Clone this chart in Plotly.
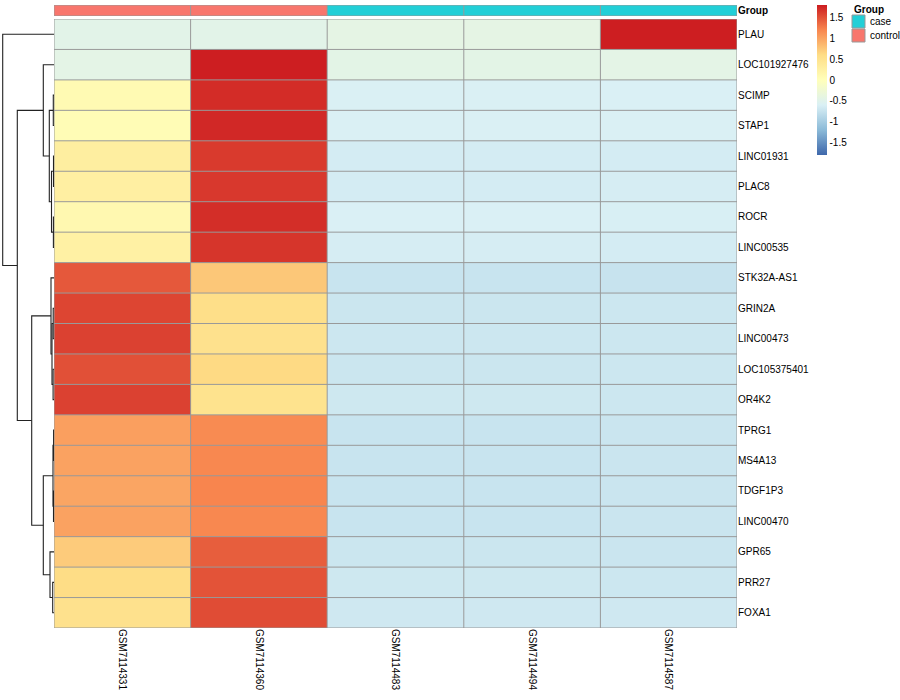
import plotly.graph_objects as go

# ---------------- data ----------------
samples = ["GSM7114331", "GSM7114360", "GSM7114483", "GSM7114494", "GSM7114587"]
groups = ["control", "control", "case", "case", "case"]
genes = ["PLAU", "LOC101927476", "SCIMP", "STAP1", "LINC01931", "PLAC8", "ROCR",
         "LINC00535", "STK32A-AS1", "GRIN2A", "LINC00473", "LOC105375401", "OR4K2",
         "TPRG1", "MS4A13", "TDGF1P3", "LINC00470", "GPR65", "PRR27", "FOXA1"]

# row-scaled expression (z-scores), columns in sample order
PLAU = [-0.47, -0.47, -0.42, -0.42, 1.78]
LOC101927476 = [-0.44, 1.78, -0.45, -0.45, -0.44]
SCIMP = [0.08, 1.70, -0.59, -0.59, -0.60]
STAP1 = [0.05, 1.72, -0.59, -0.59, -0.59]
LINC01931 = [0.30, 1.62, -0.64, -0.64, -0.64]
PLAC8 = [0.28, 1.63, -0.64, -0.64, -0.63]
ROCR = [0.12, 1.69, -0.60, -0.60, -0.61]
LINC00535 = [0.25, 1.65, -0.63, -0.63, -0.64]
STK32A_AS1 = [1.45, 0.75, -0.73, -0.73, -0.74]
GRIN2A = [1.56, 0.56, -0.71, -0.71, -0.70]
LINC00473 = [1.58, 0.52, -0.70, -0.70, -0.70]
LOC105375401 = [1.50, 0.62, -0.71, -0.71, -0.70]
OR4K2 = [1.58, 0.50, -0.69, -0.69, -0.70]
TPRG1 = [1.02, 1.16, -0.73, -0.73, -0.72]
MS4A13 = [1.00, 1.18, -0.73, -0.73, -0.72]
TDGF1P3 = [0.98, 1.20, -0.73, -0.73, -0.72]
LINC00470 = [1.00, 1.18, -0.73, -0.73, -0.72]
GPR65 = [0.72, 1.42, -0.71, -0.71, -0.72]
PRR27 = [0.60, 1.48, -0.69, -0.69, -0.70]
FOXA1 = [0.52, 1.52, -0.68, -0.68, -0.68]

values = [PLAU, LOC101927476, SCIMP, STAP1, LINC01931, PLAC8, ROCR, LINC00535,
          STK32A_AS1, GRIN2A, LINC00473, LOC105375401, OR4K2, TPRG1, MS4A13,
          TDGF1P3, LINC00470, GPR65, PRR27, FOXA1]

# row dendrogram: (child A, child B, height); ints refer to earlier merges
merges = [
    ("SCIMP", "STAP1", 0.7),            # 0
    ("LINC01931", "PLAC8", 0.5),        # 1
    ("ROCR", "LINC00535", 0.6),         # 2
    (1, 2, 2.5),                        # 3
    (0, 3, 4.7),                        # 4
    ("LOC101927476", 4, 10.7),          # 5
    ("GRIN2A", "LINC00473", 0.8),       # 6
    ("LOC105375401", "OR4K2", 0.9),     # 7
    (6, 7, 2.0),                        # 8
    ("STK32A-AS1", 8, 3.0),             # 9
    ("TPRG1", "MS4A13", 0.4),           # 10
    ("TDGF1P3", "LINC00470", 0.5),      # 11
    (10, 11, 1.0),                      # 12
    ("PRR27", "FOXA1", 1.3),            # 13
    ("GPR65", 13, 4.0),                 # 14
    (12, 14, 10.7),                     # 15
    (9, 15, 22.3),                      # 16
    (5, 16, 36.7),                      # 17
    ("PLAU", 17, 51.3),                 # 18
]

group_levels = ["case", "control"]
group_colors = {"case": "#22CFD7", "control": "#F8766D"}
heat_colors = ["#3F68AB", "#8BBAD8", "#DAF0F5", "#FFFFBA", "#FEDD86", "#F8864F", "#CC1C20"]
zlim = 1.79
cb_ticks = [1.5, 1, 0.5, 0, -0.5, -1, -1.5]

# ---------------- layout geometry (pixels) ----------------
W, H = 900, 700
hm_x0, hm_x1 = 54, 737
hm_y0, hm_y1 = 19, 628
ann_y0, ann_y1 = 5, 16
FONT = "Liberation Sans, Arial, Helvetica, sans-serif"
GRID = "#999999"

nr, nc = len(genes), len(samples)

fig = go.Figure()

# main heatmap
cscale = [[i / (len(heat_colors) - 1), c] for i, c in enumerate(heat_colors)]
fig.add_trace(go.Heatmap(
    z=values, x=list(range(nc)), y=list(range(nr)),
    colorscale=cscale, zmin=-zlim, zmax=zlim,
    xaxis="x", yaxis="y", hoverinfo="skip",
    colorbar=dict(
        x=817 / W, xanchor="left", y=1 - ann_y0 / H, yanchor="top",
        lenmode="pixels", len=150, thicknessmode="pixels", thickness=10,
        xpad=0, ypad=0, outlinewidth=0, ticks="",
        tickvals=cb_ticks, ticktext=[f"{t:g}" for t in cb_ticks],
        tickfont=dict(family=FONT, size=10, color="#000000"),
    ),
))

# group annotation bar
codes = [group_levels.index(g) for g in groups]
n_lv = len(group_levels)
ann_scale = []
for i, lv in enumerate(group_levels):
    ann_scale.append([i / n_lv, group_colors[lv]])
    ann_scale.append([(i + 1) / n_lv, group_colors[lv]])
fig.add_trace(go.Heatmap(
    z=[codes], x=list(range(nc)), y=[0],
    colorscale=ann_scale, zmin=-0.5, zmax=n_lv - 0.5, showscale=False,
    xaxis="x", yaxis="y2", hoverinfo="skip",
))

# dendrogram
pos = {g: i for i, g in enumerate(genes)}
hgt = {g: 0.0 for g in genes}
line_x, line_y = [], []
for k, (a, b, h) in enumerate(merges):
    pa, pb = pos[a], pos[b]
    ha, hb = hgt[a], hgt[b]
    line_x += [ha, h, h, hb, None]
    line_y += [pa, pa, pb, pb, None]
    pos[k] = (pa + pb) / 2
    hgt[k] = h
root_h = merges[-1][2]
fig.add_trace(go.Scatter(
    x=line_x, y=line_y, mode="lines",
    line=dict(color="#222222", width=1.1),
    xaxis="x3", yaxis="y", hoverinfo="skip", showlegend=False,
))

# cell borders
shapes = []
for i in range(nr + 1):
    shapes.append(dict(type="line", xref="x", yref="y", x0=-0.5, x1=nc - 0.5,
                       y0=i - 0.5, y1=i - 0.5, line=dict(color=GRID, width=1)))
for j in range(nc + 1):
    shapes.append(dict(type="line", xref="x", yref="y", x0=j - 0.5, x1=j - 0.5,
                       y0=-0.5, y1=nr - 0.5, line=dict(color=GRID, width=1)))
    shapes.append(dict(type="line", xref="x", yref="y2", x0=j - 0.5, x1=j - 0.5,
                       y0=-0.5, y1=0.5, line=dict(color=GRID, width=1)))
for yv in (-0.5, 0.5):
    shapes.append(dict(type="line", xref="x", yref="y2", x0=-0.5, x1=nc - 0.5,
                       y0=yv, y1=yv, line=dict(color=GRID, width=1)))

# group legend (title + swatches)
annotations = [dict(xref="paper", yref="paper", x=852 / W, y=1 - 10 / H,
                    xanchor="left", yanchor="middle", text="<b>Group</b>",
                    showarrow=False, font=dict(family=FONT, size=10, color="#000"))]
sw = 13
for i, lv in enumerate(group_levels):
    top = 15 + i * (sw + 1)
    shapes.append(dict(type="rect", xref="paper", yref="paper",
                       x0=852 / W, x1=(852 + sw) / W,
                       y0=1 - (top + sw) / H, y1=1 - top / H,
                       fillcolor=group_colors[lv], line=dict(color=GRID, width=1)))
    annotations.append(dict(xref="paper", yref="paper", x=(852 + sw + 3) / W,
                            y=1 - (top + sw / 2) / H, xanchor="left", yanchor="middle",
                            text=lv, showarrow=False,
                            font=dict(family=FONT, size=10, color="#000")))

fig.update_layout(
    width=W, height=H, margin=dict(l=0, r=0, t=0, b=0),
    paper_bgcolor="white", plot_bgcolor="white",
    font=dict(family=FONT, size=10, color="#000000"),
    showlegend=False,
    xaxis=dict(domain=[hm_x0 / W, hm_x1 / W], range=[-0.5, nc - 0.5], anchor="y",
               tickvals=list(range(nc)), ticktext=samples, tickangle=90,
               showgrid=False, zeroline=False, ticks="", showline=False,
               tickfont=dict(family=FONT, size=10, color="#000")),
    yaxis=dict(domain=[1 - hm_y1 / H, 1 - hm_y0 / H], range=[nr - 0.5, -0.5],
               anchor="x", side="right", tickvals=list(range(nr)), ticktext=genes,
               showgrid=False, zeroline=False, ticks="",
               tickfont=dict(family=FONT, size=10, color="#000")),
    yaxis2=dict(domain=[1 - ann_y1 / H, 1 - ann_y0 / H], range=[0.5, -0.5],
                anchor="x", side="right", tickvals=[0], ticktext=["<b>Group</b>"],
                showgrid=False, zeroline=False, ticks="",
                tickfont=dict(family=FONT, size=10, color="#000")),
    xaxis3=dict(domain=[0, hm_x0 / W], range=[hm_x0 * root_h / (hm_x0 - 2.7), 0],
                anchor="y", visible=False, showgrid=False, zeroline=False),
    shapes=shapes, annotations=annotations,
)

fig.write_html("out.html", config={"displayModeBar": False},
               post_script="document.body.style.margin='0';document.body.style.padding='0';")
